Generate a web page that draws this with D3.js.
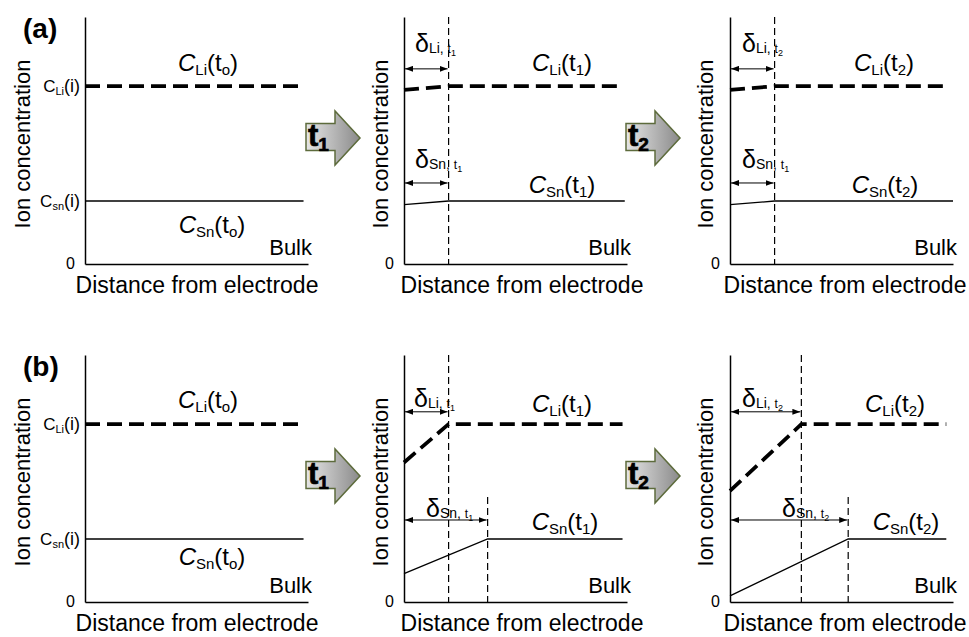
<!DOCTYPE html>
<html>
<head>
<meta charset="utf-8">
<script src="https://cdn.jsdelivr.net/npm/d3@7"></script>
<style>
  body { margin: 0; background: #fff; }
</style>
</head>
<body>
<script>
'use strict';

// ---- data: concentrations in % of axis height, distances in % of axis width ----
const rowLabels = ['(a)', '(b)'];
const stepNames = ['o', '1', '2'];
const liBulk = 72;
const snBulk = 25.5;
const liSurface = [[72, 70.5, 70.5], [72, 56.5, 45]];
const snSurface = [[25.5, 24, 24], [25.5, 11.5, 2.5]];
const liDepth = [[0, 20, 20], [0, 20, 32]];
const snDepth = [[0, 20, 20], [0, 37.5, 53]];
const liEnd = [[98, 96, 96], [98, 98, 97]];
const snEnd = [[98, 99, 100], [98, 98, 97]];
const liDeltaStep = [['', '1', '2'], ['', '1', '2']];
const snDeltaStep = [['', '1', '1'], ['', '1', '2']];

// ---- layout ----
const FONT = '"Liberation Sans", Arial, sans-serif';
const colX = [85, 404, 730];
const rowY = [17, 355];
const plotW = 223, plotH = 247;
const arrowX = [306, 626];
const ionX = [30, 388, 713];
const distX = [197, 522, 845];
const snMarkTop = 42.5;
const deltaArrowY = [[79, 32.8], [77, 33.2]];
const labelPos = {
  liC: [[[123, 54], [158, 54], [154, 54]], [[123, 53], [158, 57], [165, 57]]],
  snC: [[[127, 216], [158, 176], [155, 176]], [[127, 210], [161, 175], [176, 175]]],
  liD: [[null, [11, 35], [12, 35]], [null, [10, 52], [12, 52]]],
  snD: [[null, [11, 151], [12, 151]], [null, [22, 162], [52, 162]]]
};

const svg = d3.select('body').append('svg')
  .attr('width', 969)
  .attr('height', 637)
  .style('font-family', FONT);

// gradient and arrow heads
const defs = svg.append('defs');
const grad = defs.append('linearGradient')
  .attr('id', 'stepFill')
  .attr('x1', 0).attr('x2', 1).attr('y1', 0).attr('y2', 0);
grad.append('stop').attr('offset', '0%').attr('stop-color', '#e6e6e6');
grad.append('stop').attr('offset', '100%').attr('stop-color', '#8a8a8a');

defs.append('marker')
  .attr('id', 'head')
  .attr('viewBox', '0 0 8 6')
  .attr('refX', 8).attr('refY', 3)
  .attr('markerWidth', 8).attr('markerHeight', 6)
  .attr('markerUnits', 'userSpaceOnUse')
  .attr('orient', 'auto-start-reverse')
  .append('path')
  .attr('d', 'M0,0L8,3L0,6Z')
  .attr('fill', '#000');

// text made of pieces with sub-scripts
function rich(text, parts) {
  let shift = 0;
  parts.forEach(p => {
    const s = p.shift || 0;
    text.append('tspan')
      .attr('dy', s - shift)
      .style('font-size', p.size + 'px')
      .style('font-style', p.italic ? 'italic' : 'normal')
      .text(p.t);
    shift = s;
  });
  return text;
}

function profile(surf, depth, bulk, end) {
  if (depth > 0) return [[0, surf], [depth, bulk], [end, bulk]];
  return [[0, bulk], [end, bulk]];
}

function drawPanel(r, c) {
  const x0 = colX[c], y0 = rowY[r];
  const step = stepNames[c];
  const x = d3.scaleLinear().domain([0, 100]).range([x0, x0 + plotW]);
  const y = d3.scaleLinear().domain([0, 100]).range([y0 + plotH, y0]);
  const g = svg.append('g');

  // axes
  const yAxis = g.append('g')
    .attr('transform', `translate(${x0},0)`)
    .call(d3.axisLeft(y).tickValues([0]).tickSize(0).tickPadding(10).tickFormat(d3.format('d')));
  g.append('g')
    .attr('transform', `translate(0,${y0 + plotH})`)
    .call(d3.axisBottom(x).tickValues([]).tickSizeOuter(0));
  g.selectAll('.domain').attr('stroke', '#000').attr('stroke-width', 1.5);
  yAxis.attr('font-family', FONT).attr('font-size', 16);
  yAxis.selectAll('text').attr('fill', '#000').attr('dy', '0.3em');

  // initial concentration labels on the first panel
  if (c === 0) {
    rich(g.append('text').attr('x', x0 - 5).attr('y', y(liBulk) + 6).attr('text-anchor', 'end'),
      [{t: 'C', size: 17}, {t: 'Li', size: 11, shift: 3}, {t: '(i)', size: 18}]);
    rich(g.append('text').attr('x', x0 - 5).attr('y', y(snBulk) + 6).attr('text-anchor', 'end'),
      [{t: 'C', size: 17}, {t: 'sn', size: 11, shift: 3}, {t: '(i)', size: 18}]);
  }

  // dashed depth markers
  const ld = liDepth[r][c], sd = snDepth[r][c];
  if (ld > 0) {
    g.append('line')
      .attr('x1', x(ld)).attr('x2', x(ld))
      .attr('y1', y(100)).attr('y2', y(0))
      .attr('stroke', '#000').attr('stroke-width', 1.2)
      .attr('stroke-dasharray', '7,4');
  }
  if (sd > 0 && sd !== ld) {
    g.append('line')
      .attr('x1', x(sd)).attr('x2', x(sd))
      .attr('y1', y(snMarkTop)).attr('y2', y(0))
      .attr('stroke', '#000').attr('stroke-width', 1.2)
      .attr('stroke-dasharray', '7,4');
  }

  // profiles
  const line = d3.line().x(d => x(d[0])).y(d => y(d[1]));
  g.append('path')
    .datum(profile(liSurface[r][c], ld, liBulk, liEnd[r][c]))
    .attr('d', line)
    .attr('fill', 'none')
    .attr('stroke', '#000')
    .attr('stroke-width', 3.8)
    .attr('stroke-dasharray', '15,7');
  g.append('path')
    .datum(profile(snSurface[r][c], sd, snBulk, snEnd[r][c]))
    .attr('d', line)
    .attr('fill', 'none')
    .attr('stroke', '#000')
    .attr('stroke-width', 1.3);

  // boundary layer thickness arrows
  [[ld, deltaArrowY[r][0]], [sd, deltaArrowY[r][1]]].forEach(([d, ay]) => {
    if (d <= 0) return;
    g.append('line')
      .attr('x1', x(0) + 1).attr('x2', x(d) - 1)
      .attr('y1', y(ay)).attr('y2', y(ay))
      .attr('stroke', '#000').attr('stroke-width', 1)
      .attr('marker-start', 'url(#head)')
      .attr('marker-end', 'url(#head)');
  });

  // labels
  const lc = labelPos.liC[r][c], sc = labelPos.snC[r][c];
  rich(g.append('text').attr('x', x0 + lc[0]).attr('y', y0 + lc[1]).attr('text-anchor', 'middle'),
    [{t: 'C', size: 24, italic: true}, {t: 'Li', size: 15, shift: 4}, {t: '(t', size: 24},
     {t: step, size: 15, shift: 4}, {t: ')', size: 24}]);
  rich(g.append('text').attr('x', x0 + sc[0]).attr('y', y0 + sc[1]).attr('text-anchor', 'middle'),
    [{t: 'C', size: 24, italic: true}, {t: 'Sn', size: 15, shift: 4}, {t: '(t', size: 24},
     {t: step, size: 15, shift: 4}, {t: ')', size: 24}]);

  if (labelPos.liD[r][c]) {
    const p = labelPos.liD[r][c];
    rich(g.append('text').attr('x', x0 + p[0]).attr('y', y0 + p[1]),
      [{t: 'δ', size: 25}, {t: 'Li, ', size: 14, shift: 1}, {t: 't', size: 12, shift: 1},
       {t: liDeltaStep[r][c], size: 9, shift: 4}]);
  }
  if (labelPos.snD[r][c]) {
    const p = labelPos.snD[r][c];
    rich(g.append('text').attr('x', x0 + p[0]).attr('y', y0 + p[1]),
      [{t: 'δ', size: 25}, {t: 'Sn, ', size: 14, shift: 1}, {t: 't', size: 12, shift: 1},
       {t: snDeltaStep[r][c], size: 9, shift: 4}]);
  }

  g.append('text')
    .attr('x', x0 + plotW + 4)
    .attr('y', y0 + 238)
    .attr('text-anchor', 'end')
    .style('font-size', '22px')
    .text('Bulk');

  g.append('text')
    .attr('transform', `translate(${ionX[c]},${y0 + 127})rotate(-90)`)
    .attr('text-anchor', 'middle')
    .style('font-size', '22px')
    .text('Ion concentration');

  g.append('text')
    .attr('x', distX[c])
    .attr('y', y0 + 276)
    .attr('text-anchor', 'middle')
    .style('font-size', '23px')
    .text('Distance from electrode');
}

function drawStepArrow(ax, y0, step) {
  const g = svg.append('g').attr('transform', `translate(${ax},${y0})`);
  g.append('path')
    .attr('d', 'M0,106.5H29V94L54,121L29,148V133.5H0Z')
    .attr('fill', 'url(#stepFill)')
    .attr('stroke', '#5d6b3c')
    .attr('stroke-width', 1.5);
  rich(g.append('text').attr('x', 2).attr('y', 129)
      .style('font-weight', 'bold')
      .attr('stroke', '#000').attr('stroke-width', 0.7),
    [{t: 't', size: 31}, {t: step, size: 19, shift: 5}]);
}

rowLabels.forEach((rowLabel, r) => {
  svg.append('text')
    .attr('x', 23)
    .attr('y', rowY[r] + 21)
    .style('font-size', '28px')
    .style('font-weight', 'bold')
    .text(rowLabel);
  stepNames.forEach((step, c) => drawPanel(r, c));
  arrowX.forEach((ax, k) => drawStepArrow(ax, rowY[r], stepNames[k + 1]));
});
</script>
</body>
</html>
